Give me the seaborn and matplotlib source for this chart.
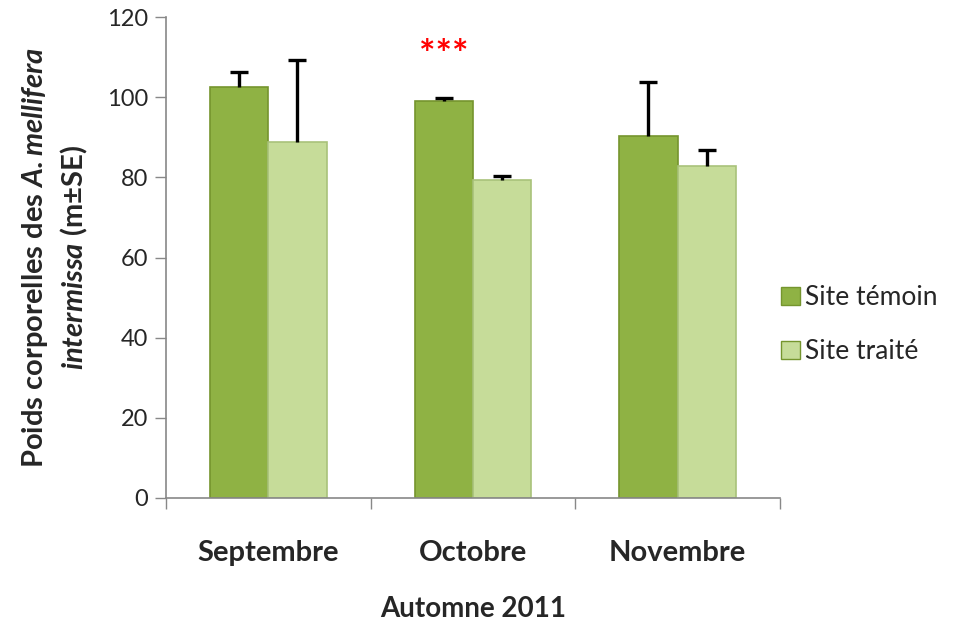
import matplotlib
matplotlib.use("Agg")
import matplotlib.pyplot as plt
import seaborn as sns
import pandas as pd
import numpy as np

months = ["Septembre", "Octobre", "Novembre"]
sites = ["Site témoin", "Site traité"]
temoin = [102.5, 99.0, 90.3]
traite = [88.8, 79.3, 82.8]
temoin_se = [3.7, 0.7, 13.4]
traite_se = [20.4, 1.0, 4.0]
yticks = [0, 20, 40, 60, 80, 100, 120]

sns.set_theme(style="white")
plt.rcParams['font.family'] = ['Lato', 'DejaVu Sans']
plt.rcParams['mathtext.fontset'] = 'custom'
plt.rcParams['mathtext.bfit'] = 'Lato:italic:bold'
plt.rcParams['mathtext.it'] = 'Lato:italic'
plt.rcParams['mathtext.rm'] = 'Lato'
plt.rcParams['mathtext.bf'] = 'Lato:bold'

df = pd.DataFrame({
    "mois": months * 2,
    "site": [sites[0]] * 3 + [sites[1]] * 3,
    "poids": temoin + traite,
})
colors = ["#8fb244", "#c6dc99"]
edges = ["#75952e", "#a9c27a"]

fig = plt.figure(figsize=(9.54, 6.25), dpi=100)
ax = fig.add_axes([0.174, 0.2032, 0.6436, 0.7696])
sns.barplot(data=df, x="mois", y="poids", hue="site", order=months,
            hue_order=sites, palette=colors, width=0.57, gap=0.0,
            errorbar=None, ax=ax, saturation=1)

ses = [temoin_se, traite_se]
vals = [temoin, traite]
bar_conts = list(ax.containers)
for h, cont in enumerate(bar_conts):
    xs = []
    for p in cont:
        p.set_edgecolor(edges[h])
        p.set_linewidth(1.2)
        xs.append(p.get_x() + p.get_width() / 2)
    eb = ax.errorbar(xs, vals[h], yerr=[np.zeros(3), ses[h]], fmt="none",
                     ecolor="black", elinewidth=2.4, capsize=6.5, capthick=2.4, zorder=5)
    eb[1][0].set_visible(False)
    if h == 0:
        ax.text(xs[1], 110.5, "***", color="red", fontsize=28, fontweight="bold",
                ha="center", va="center")

ax.set_ylim(0, 120)
ax.set_xlim(-0.5, 2.5)
ax.set_yticks(yticks)
ax.tick_params(axis="y", labelsize=17, length=8, width=1, color="#888888", pad=5, left=True)
ax.tick_params(axis="x", which="major", length=0, labelsize=21, pad=30)
ax.set_xticks([-0.5, 0.5, 1.5, 2.5], minor=True)
ax.tick_params(axis="x", which="minor", length=8, width=1, color="#888888", bottom=True)
for lab in ax.get_xticklabels():
    lab.set_fontweight("bold")
for s in ["top", "right"]:
    ax.spines[s].set_visible(False)
for s in ["left", "bottom"]:
    ax.spines[s].set_color("#888888")
    ax.spines[s].set_linewidth(1.2)

ax.set_xlabel("Automne 2011", fontsize=20, fontweight="bold", labelpad=22)
ax.set_ylabel("Poids corporelles des $\\mathbfit{A{.}mellifera}$\n$\\mathbfit{intermissa}$ (m±SE)",
              fontsize=21, fontweight="bold", labelpad=12, multialignment="center",
              linespacing=1.35)

leg = ax.legend(loc="center left", bbox_to_anchor=(0.985, 0.36), frameon=False,
                fontsize=19, handlelength=0.7, handleheight=0.7, labelspacing=1.1,
                handletextpad=0.2, borderaxespad=0.0)
for hnd in leg.legend_handles:
    hnd.set_edgecolor("#75952e")

fig.savefig("out.png", dpi=100)
